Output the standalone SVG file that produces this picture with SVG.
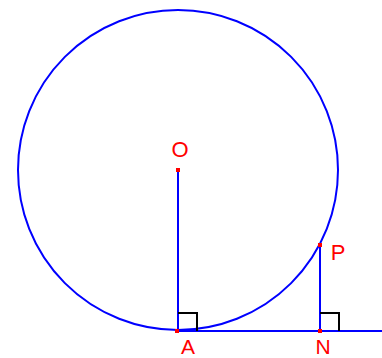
<svg xmlns="http://www.w3.org/2000/svg" width="382" height="358" viewBox="0 0 382 358">
<style>
.b{fill:none;stroke:#0000ff;stroke-width:2}
.ra{fill:none;stroke:#000;stroke-width:2}
.pt{fill:#ff0000}
.lb{font-family:"Liberation Sans",Arial,sans-serif;font-size:22px;fill:#ff0000;text-anchor:middle}
.lbs{font-size:21px}
</style>
<rect width="382" height="358" fill="#fff"/>
<g id="connectors">
<circle class="b" cx="178" cy="170" r="160"/>
<line class="b" x1="178" y1="170" x2="178" y2="331"/>
<line class="b" x1="177" y1="331" x2="382" y2="331"/>
<line class="b" x1="320" y1="245" x2="320" y2="331"/>
<polyline class="ra" points="178,313 197,313 197,331"/>
<polyline class="ra" points="320,313 339,313 339,331"/>
</g>
<g id="O"><rect class="pt" x="176" y="168" width="4" height="4"/><text class="lb" x="180" y="157">O</text></g>
<g id="A"><rect class="pt" x="175" y="329" width="4" height="4"/><text class="lb lbs" x="188" y="354">A</text></g>
<g id="P"><rect class="pt" x="318" y="243" width="4" height="4"/><text class="lb" x="338" y="260">P</text></g>
<g id="N"><rect class="pt" x="318" y="329" width="4" height="4"/><text class="lb lbs" x="323" y="354">N</text></g>
</svg>
